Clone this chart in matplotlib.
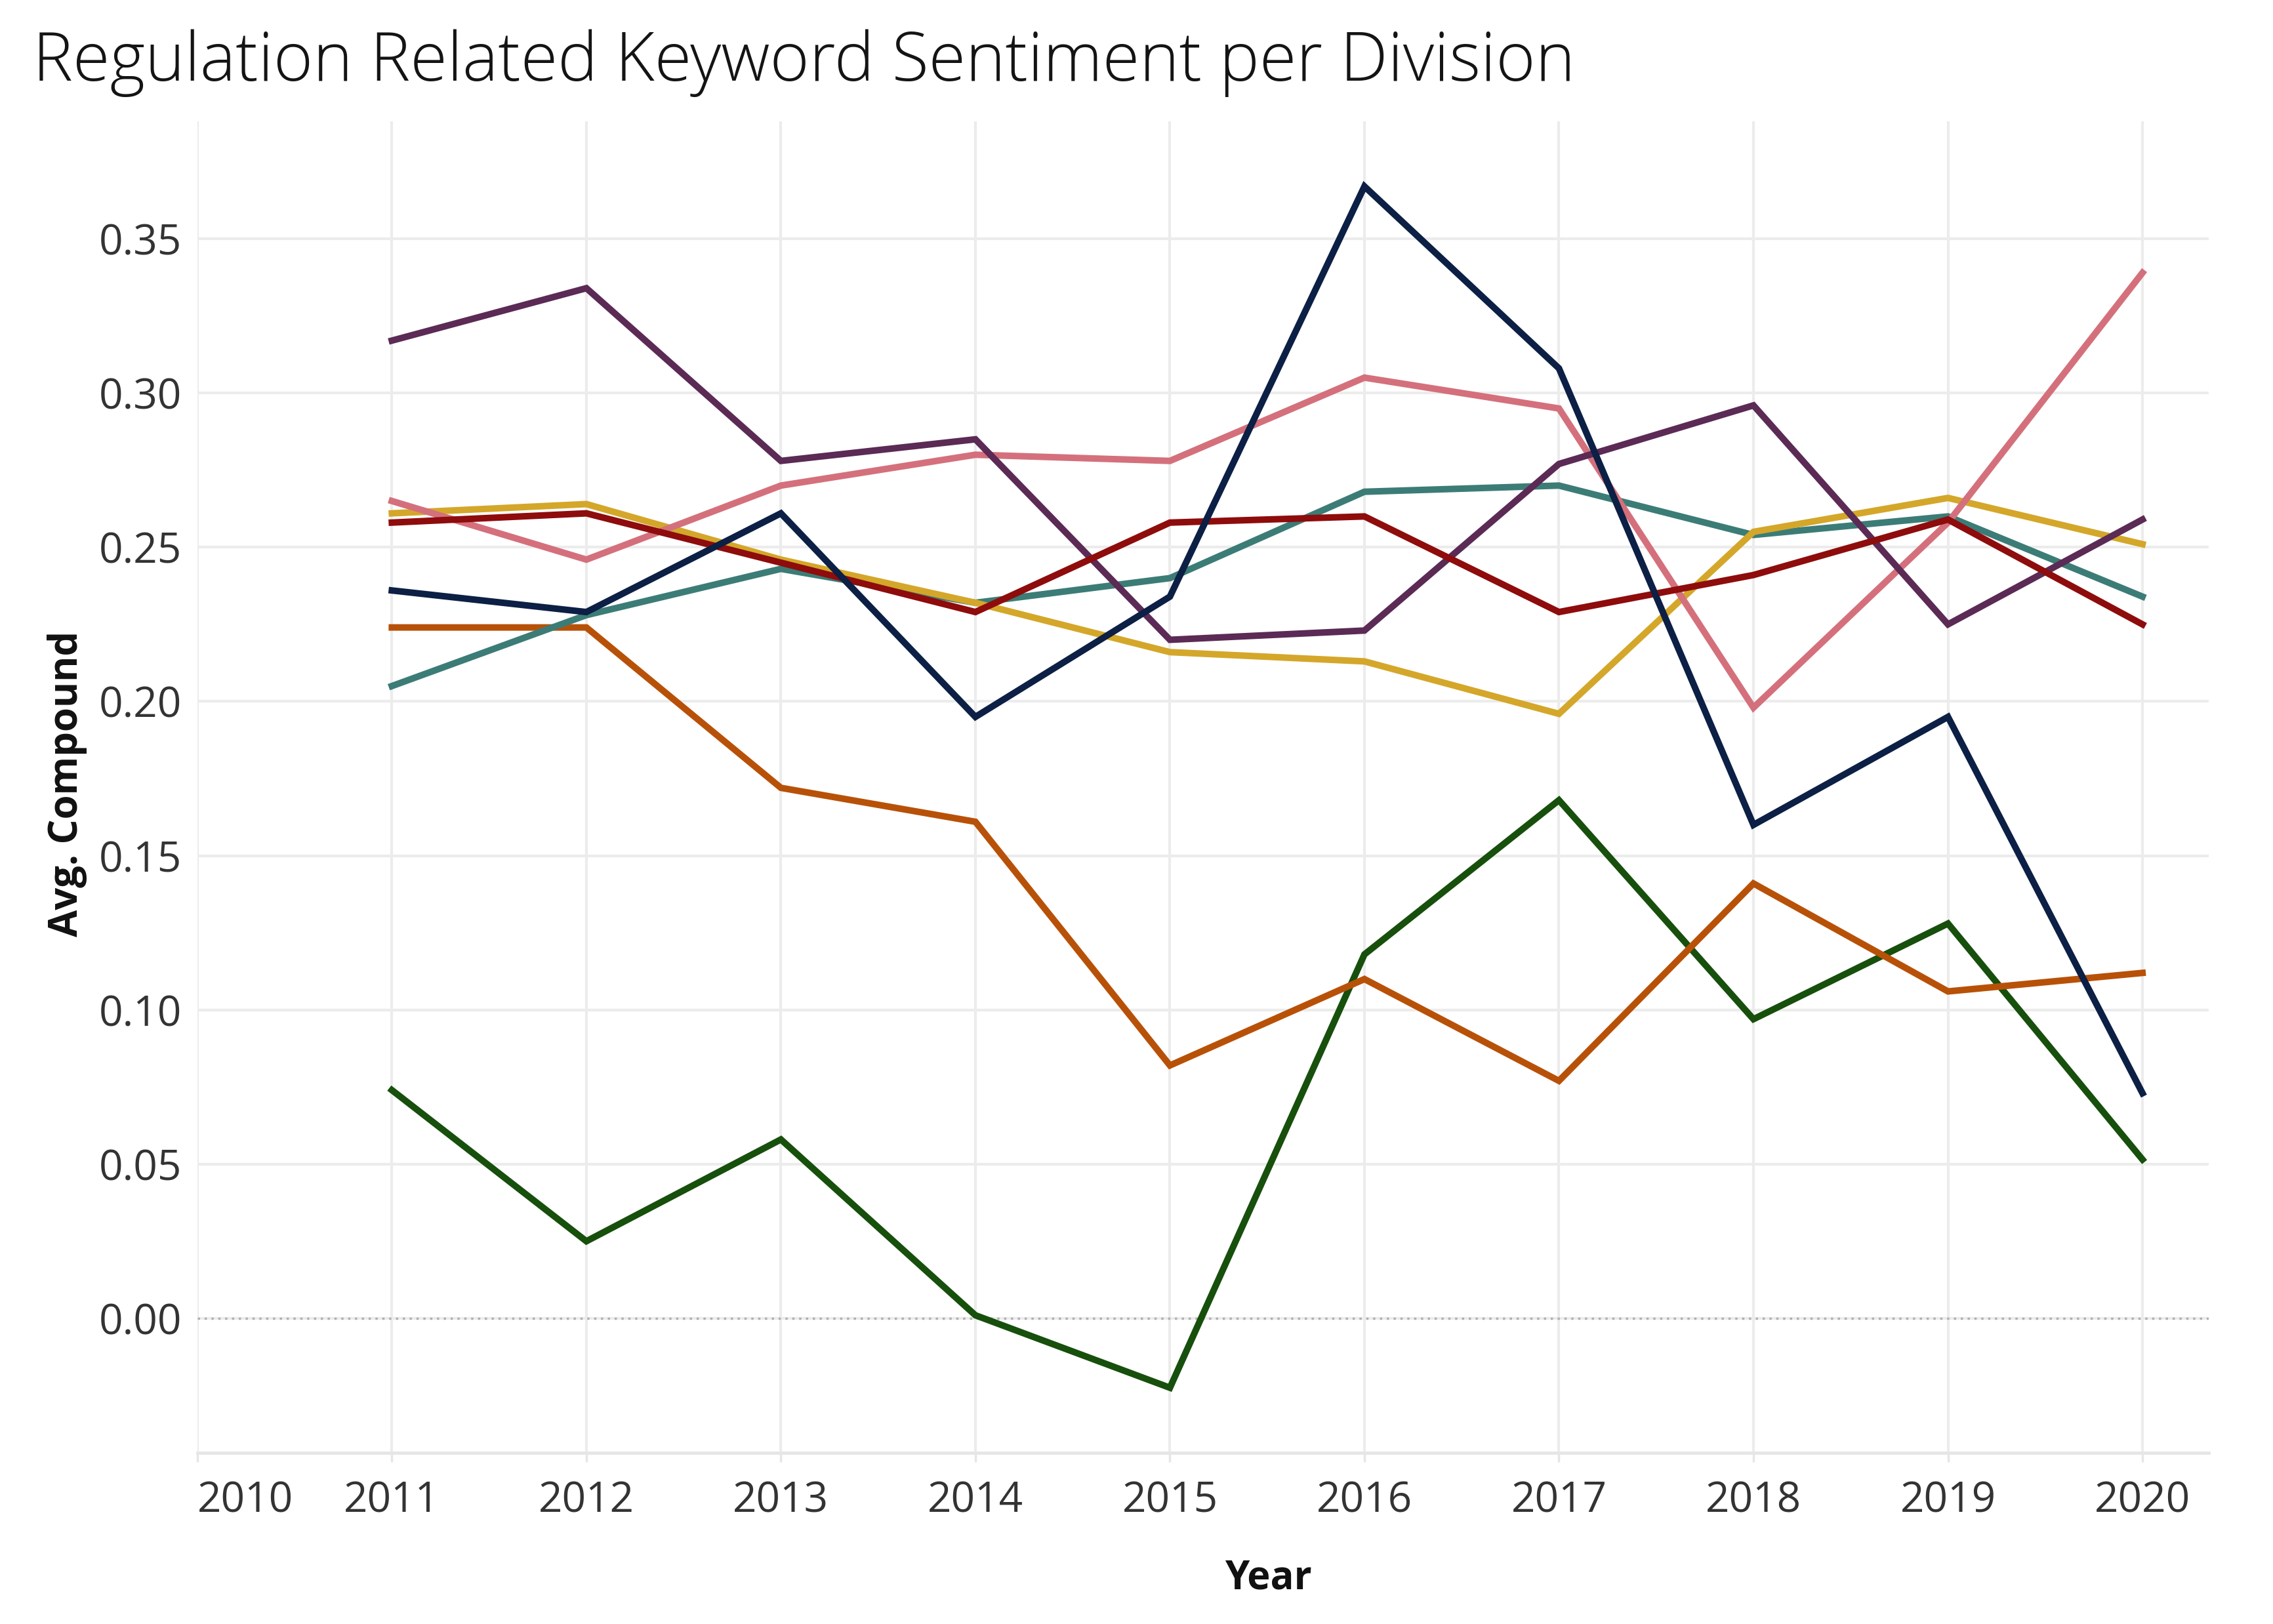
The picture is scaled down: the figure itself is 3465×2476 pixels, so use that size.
import matplotlib
matplotlib.use('Agg')
import matplotlib.pyplot as plt

years = [2011, 2012, 2013, 2014, 2015, 2016, 2017, 2018, 2019, 2020]

# avg. compound sentiment per division
navy = [0.236, 0.229, 0.261, 0.195, 0.234, 0.367, 0.308, 0.160, 0.195, 0.073]
purple = [0.317, 0.334, 0.278, 0.285, 0.220, 0.223, 0.277, 0.296, 0.225, 0.259]
pink = [0.265, 0.246, 0.270, 0.280, 0.278, 0.305, 0.295, 0.198, 0.258, 0.339]
gold = [0.261, 0.264, 0.246, 0.232, 0.216, 0.213, 0.196, 0.255, 0.266, 0.251]
darkred = [0.258, 0.261, 0.245, 0.229, 0.258, 0.260, 0.229, 0.241, 0.259, 0.225]
teal = [0.205, 0.228, 0.243, 0.232, 0.240, 0.268, 0.270, 0.254, 0.260, 0.234]
orange = [0.224, 0.224, 0.172, 0.161, 0.082, 0.110, 0.077, 0.141, 0.106, 0.112]
green = [0.074, 0.025, 0.058, 0.001, -0.0225, 0.118, 0.168, 0.097, 0.128, 0.0515]

series = [
    (green, '#174f0c'),
    (orange, '#b85108'),
    (teal, '#3c7c76'),
    (gold, '#d4a72a'),
    (pink, '#d4707c'),
    (purple, '#5b2a55'),
    (darkred, '#8e0c0c'),
    (navy, '#0c1f45'),
]

xticks = list(range(2010, 2021))
yticks = [0.00, 0.05, 0.10, 0.15, 0.20, 0.25, 0.30, 0.35]

plt.rcParams['font.family'] = ['Open Sans', 'DejaVu Sans']

fig = plt.figure(figsize=(34.66, 24.76), dpi=100)
ax = fig.add_axes([0.0868, 0.1054, 0.8846, 0.8199])

for vals, col in series:
    ax.plot(years, vals, color=col, lw=7.2, solid_joinstyle='miter', zorder=3)

ax.axhline(0, color='#b0b0b0', lw=2.5, ls=(0, (1, 2)), zorder=2)

ax.set_xlim(2010, 2020.34)
ax.set_ylim(-0.0436, 0.3881)
ax.set_xticks(xticks)
ax.set_xticklabels([str(y) for y in xticks])
ax.set_yticks(yticks)
ax.set_yticklabels(['%.2f' % v for v in yticks])
ax.get_xticklabels()[0].set_horizontalalignment('left')

ax.grid(True, color='#ececec', lw=3, zorder=0)
for s in ['top', 'right', 'left']:
    ax.spines[s].set_visible(False)
ax.spines['bottom'].set_color('#e6e6e6')
ax.spines['bottom'].set_linewidth(3.5)

ax.tick_params(axis='both', labelsize=46, labelcolor='#333333', color='#e6e6e6', width=2.5)
ax.tick_params(axis='x', length=10, pad=20)
ax.tick_params(axis='y', length=0, pad=17)

# axis titles placed like the original view
fig.text(0.5577, 0.0218, 'Year', fontsize=43, fontweight='bold',
         color='#111111', ha='center', va='baseline')
fig.text(0.0297, 0.5174, 'Avg. Compound', fontsize=43, fontweight='bold',
         color='#111111', ha='center', va='center', rotation=90)

fig.text(0.0145, 0.9503, 'Regulation Related Keyword Sentiment per Division',
         fontsize=74, fontweight='light', color='#141414', va='baseline', ha='left')

fig.savefig('out.png', dpi=100)
